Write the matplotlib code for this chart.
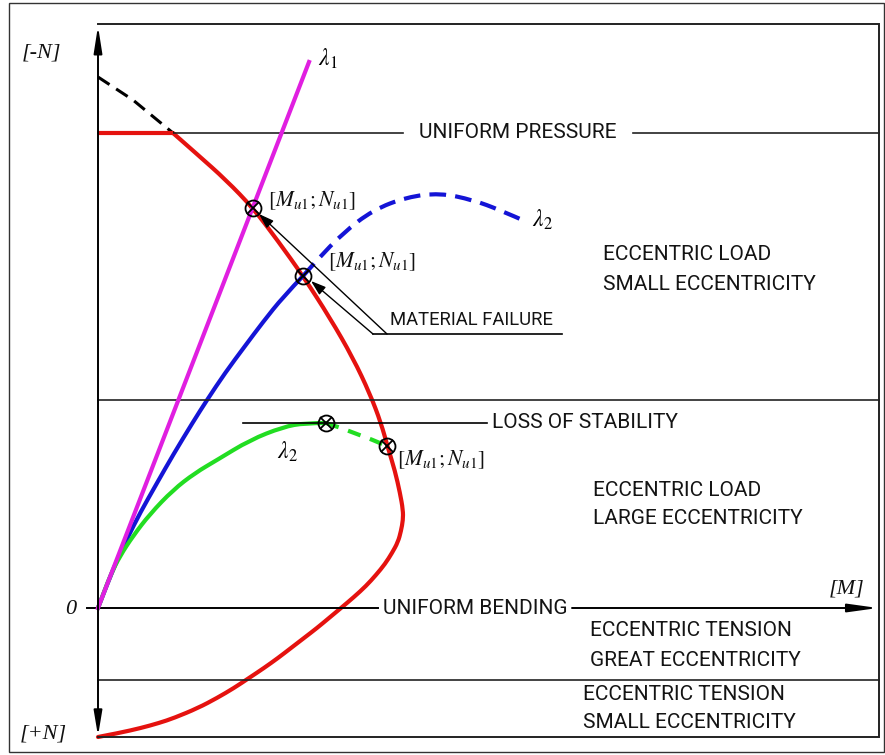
import matplotlib
matplotlib.use("Agg")
import matplotlib.pyplot as plt
from matplotlib.patches import Rectangle, PathPatch
from matplotlib.path import Path

plt.rcParams['mathtext.fontset'] = 'stix'

# ---- interaction diagram data (M horizontal, compression -N upward) ----
# failure envelope
env_M = [0, 75, 100, 128, 155, 180, 205, 232, 255, 272, 283, 290, 297, 302,
         305, 305, 303, 300, 294, 287, 278, 268, 256, 243, 231, 219, 206,
         193, 180, 166, 151, 136, 119, 100, 76, 61, 43, 21, 0]
env_N = [475, 475, 453, 428, 400, 367, 332, 290, 250, 214, 185, 160, 137,
         115, 98, 88, 77, 66, 55, 44, 33, 22, 11, 0, -10, -20, -30, -40,
         -50, -60, -70, -80, -90, -100, -110, -115, -120, -125, -129]

# theoretical envelope above the uniform-pressure cut-off
cut_M = [0, 35, 75]
cut_N = [531, 508, 475]

# load path lambda_1 (linear)
lam1_M = [0, 211]
lam1_N = [0, 546]

# load path lambda_2 reaching material failure
lam2a_M = [0, 10, 20, 30, 42, 59, 75, 95, 109, 127, 147, 165, 185, 205]
lam2a_N = [0, 26, 50, 71, 95, 125, 153, 186, 208, 235, 262, 286, 311, 332]
lam2a_ext_M = [205, 219, 245, 275, 309, 342, 375, 402, 429]
lam2a_ext_N = [332, 348, 375, 398, 411, 415, 408, 398, 386]

# load path lambda_2 with loss of stability
lam2b_M = [0, 6, 13, 22, 35, 52, 75, 97, 119, 152, 185, 207, 228]
lam2b_N = [0, 16, 34, 52, 72, 94, 118, 135, 148, 168, 181, 185, 185]
lam2b_ext_M = [228, 259, 289]
lam2b_ext_N = [185, 175, 162]

# characteristic points [Mu1; Nu1]
pts_M = [155, 205, 228, 289]
pts_N = [400, 332, 185, 162]

# zone boundaries (N values)
N_pressure = 475
N_small_large = 208
N_bending = 0
N_tension_split = -72
N_bottom = -129
N_top = 584
M_right = 781

RED = '#e5120f'
MAGENTA = '#e01fe0'
BLUE = '#1414d6'
GREEN = '#22dd22'


def smooth_curve(ax, xs, ys, **kw):
    """Draw a quadratic B-spline style path through the given points."""
    pts = list(zip(xs, ys))
    verts = [pts[0]]
    codes = [Path.MOVETO]
    if len(pts) == 2:
        verts.append(pts[1])
        codes.append(Path.LINETO)
    else:
        for i in range(1, len(pts) - 1):
            if i == len(pts) - 2:
                end = pts[-1]
            else:
                end = ((pts[i][0] + pts[i + 1][0]) / 2,
                       (pts[i][1] + pts[i + 1][1]) / 2)
            verts += [pts[i], end]
            codes += [Path.CURVE3, Path.CURVE3]
    patch = PathPatch(Path(verts, codes), fill=False, **kw)
    ax.add_patch(patch)
    return patch


fig = plt.figure(figsize=(8.85, 7.55), dpi=100)
ax = fig.add_axes([0, 0, 1, 1])
ax.set_xlim(-98, 787)
ax.set_ylim(-147, 608)
ax.axis('off')

cad = dict(family=['Roboto', 'DejaVu Sans'], fontsize=15, color='#141414')
ital = dict(family=['Liberation Serif', 'DejaVu Serif'], style='italic',
            fontsize=16, color='#111111')

# outer frame
ax.add_patch(Rectangle((-89, -144), 875, 749, fill=False, lw=1.0,
                       edgecolor='#333333', clip_on=False))

# inner frame (top, right, bottom)
ax.plot([0, M_right, M_right, 0], [N_top, N_top, N_bottom, N_bottom],
        color='#222222', lw=1.4, solid_joinstyle='miter')

# zone boundaries
ax.plot([0, 305], [N_pressure] * 2, color='#222222', lw=1.2)
ax.plot([535, M_right], [N_pressure] * 2, color='#222222', lw=1.2)
ax.text(420, N_pressure, 'UNIFORM PRESSURE', ha='center', va='center', **cad)

ax.plot([0, M_right], [N_small_large] * 2, color='#222222', lw=1.2)
ax.plot([0, M_right], [N_tension_split] * 2, color='#222222', lw=1.2)

# N axis with arrows at both ends
ax.annotate('', xy=(0, 582), xytext=(0, 0),
            arrowprops=dict(arrowstyle='-|>,head_length=1.6,head_width=0.25',
                            lw=1.4, color='black', shrinkA=0, shrinkB=0))
ax.annotate('', xy=(0, -128), xytext=(0, 0),
            arrowprops=dict(arrowstyle='-|>,head_length=1.5,head_width=0.25',
                            lw=1.4, color='black', shrinkA=0, shrinkB=0))

# M axis
ax.plot([-11, 280], [N_bending] * 2, color='black', lw=1.4)
ax.annotate('', xy=(780, N_bending), xytext=(474, N_bending),
            arrowprops=dict(arrowstyle='-|>,head_length=1.8,head_width=0.25',
                            lw=1.4, color='black', shrinkA=0, shrinkB=0))
ax.text(377, N_bending, 'UNIFORM BENDING', ha='center', va='center', **cad)

# loss of stability
ax.plot([145, 389], [185, 185], color='black', lw=1.2)
ax.text(394, 185, 'LOSS OF STABILITY', ha='left', va='center', **cad)

# material failure leader
ax.plot([275, 464], [274, 274], color='black', lw=1.2)
ax.text(373, 288, 'MATERIAL FAILURE', ha='center', va='center',
        **{**cad, 'fontsize': 13.3})
ax.annotate('', xy=(213, 327), xytext=(275, 274),
            arrowprops=dict(arrowstyle='-|>,head_length=0.9,head_width=0.3',
                            lw=1.0, color='black', shrinkA=0, shrinkB=0))
ax.annotate('', xy=(161, 394), xytext=(289, 274),
            arrowprops=dict(arrowstyle='-|>,head_length=0.9,head_width=0.3',
                            lw=1.0, color='black', shrinkA=0, shrinkB=0))

# curves
ax.plot(cut_M, cut_N, color='black', lw=2.2, dashes=(4.5, 2.6))
ax.plot(env_M[:2], env_N[:2], color=RED, lw=3.0, solid_capstyle='butt')
smooth_curve(ax, env_M[1:], env_N[1:], edgecolor=RED, lw=3.0,
             joinstyle='round', capstyle='round')
ax.plot(lam1_M, lam1_N, color=MAGENTA, lw=3.0)
smooth_curve(ax, lam2a_M, lam2a_N, edgecolor=BLUE, lw=3.0, capstyle='round')
smooth_curve(ax, lam2a_ext_M, lam2a_ext_N, edgecolor=BLUE, lw=3.0,
             linestyle=(0, (4, 2.2)))
smooth_curve(ax, lam2b_M, lam2b_N, edgecolor=GREEN, lw=3.0, capstyle='round')
smooth_curve(ax, lam2b_ext_M, lam2b_ext_N, edgecolor=GREEN, lw=3.0,
             linestyle=(0, (3.2, 2.4)))

# characteristic points
ax.plot(pts_M, pts_N, ls='none', marker='o', ms=11.5, mfc='none',
        mec='black', mew=1.3, zorder=5)
ax.plot(pts_M, pts_N, ls='none', marker='x', ms=8, mec='black', mew=1.3,
        zorder=5)

lbl = r'$\mathit{[M_{u1}{;}N_{u1}]}$'
ax.text(170, 407, lbl, ha='left', va='center', fontsize=15.5, color='#111111')
ax.text(230, 346, lbl, ha='left', va='center', fontsize=15.5, color='#111111')
ax.text(299, 148, lbl, ha='left', va='center', fontsize=15.5, color='#111111')

ax.text(220, 549, r'$\lambda_1$', ha='left', va='center', fontsize=17)
ax.text(434, 388, r'$\lambda_2$', ha='left', va='center', fontsize=17)
ax.text(189, 156, r'$\lambda_2$', ha='center', va='center', fontsize=17)

# axis labels
ax.text(-57, 555, '[-N]', ha='center', va='center', **ital)
ax.text(-55, -126, '[+N]', ha='center', va='center', **ital)
ax.text(-27, -2, '0', ha='center', va='center', **ital)
ax.text(749, 19, '[M]', ha='center', va='center', **ital)

# zone descriptions
zones = [
    (505, 353, 'ECCENTRIC LOAD'),
    (505, 323, 'SMALL ECCENTRICITY'),
    (495, 117, 'ECCENTRIC LOAD'),
    (495, 89, 'LARGE ECCENTRICITY'),
    (492, -23, 'ECCENTRIC TENSION'),
    (492, -52, 'GREAT ECCENTRICITY'),
    (485, -87, 'ECCENTRIC TENSION'),
    (485, -115, 'SMALL ECCENTRICITY'),
]
for zm, zn, txt in zones:
    ax.text(zm, zn, txt, ha='left', va='center', **cad)

fig.savefig('out.png', dpi=100, facecolor='white')
